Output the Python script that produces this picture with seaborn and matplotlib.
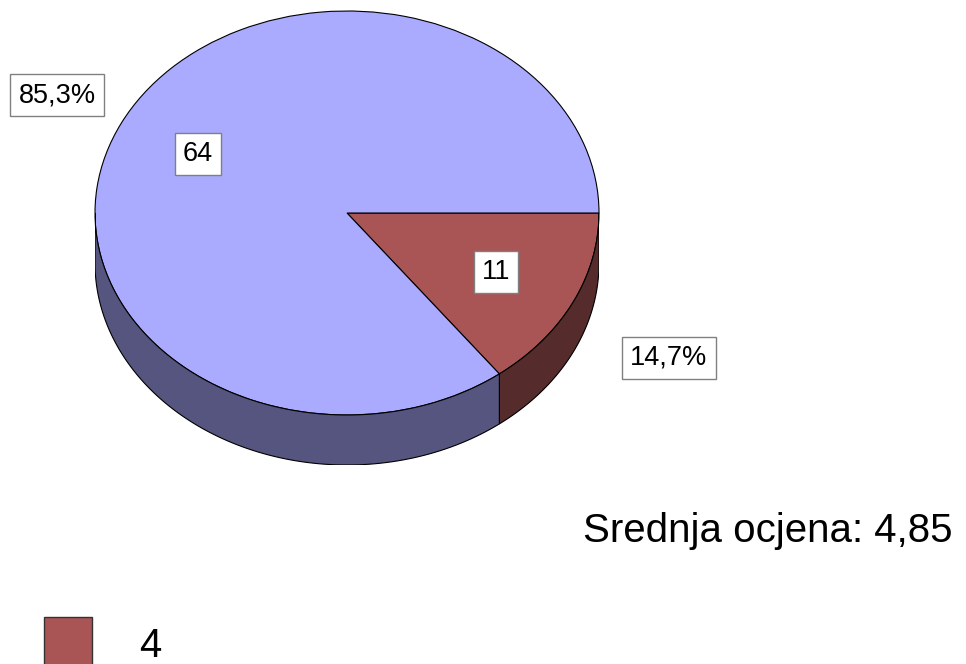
import numpy as np
import matplotlib
matplotlib.use("Agg")
import matplotlib.pyplot as plt
from matplotlib.patches import Polygon, Rectangle
import seaborn as sns

# data
categories = ["4", "5"]
counts = [11, 64]
colors = ["#AA5555", "#AAAAFF"]
side_colors = ["#552B2B", "#55557F"]
pct_labels = ["14,7%", "85,3%"]
mean_text = "Srednja ocjena: 4,85"

sns.set_theme(style="white")
plt.rcParams["font.family"] = ["Liberation Sans", "DejaVu Sans"]
plt.rcParams["text.color"] = "black"

W, H = 966, 664
fig = plt.figure(figsize=(W / 100, H / 100), dpi=100)

# ellipse geometry in pixels
cx, cy, rx, ry, depth = 347, 213, 252, 202, 50
d = depth / ry
ax = fig.add_axes([(cx - rx) / W, (H - (cy + ry + depth)) / H, 2 * rx / W, (2 * ry + depth) / H])

edge = dict(edgecolor="black", linewidth=0.8)
ax.pie(counts, colors=colors, startangle=0, counterclock=False,
       wedgeprops=edge, radius=1, center=(0, 0), frame=False)
ax.set_xlim(-1, 1)
ax.set_ylim(-1 - d, 1)
ax.set_aspect("auto")
ax.axis("off")

# side walls of the slices (front half only)
fracs = np.array(counts) / np.sum(counts)
bounds = -360 * np.concatenate([[0], np.cumsum(fracs)])
for i in range(len(counts)):
    t0, t1 = bounds[i + 1], bounds[i]
    lo, hi = max(t0, -180), min(t1, 0)
    if lo < hi:
        t = np.radians(np.linspace(lo, hi, 100))
        top = np.column_stack([np.cos(t), np.sin(t)])
        bot = np.column_stack([np.cos(t), np.sin(t) - d])[::-1]
        ax.add_patch(Polygon(np.vstack([top, bot]), closed=True,
                             facecolor=side_colors[i], **edge))
    mid = np.radians((t0 + t1) / 2)
    ax.text(0.66 * np.cos(mid), 0.66 * np.sin(mid), str(counts[i]),
            ha="center", va="center", fontsize=19.5, color="black", zorder=5,
            bbox=dict(boxstyle="square,pad=0.3", fc="white", ec="#808080", lw=1))

# overlay in pixel coordinates
ov = fig.add_axes([0, 0, 1, 1])
ov.set_xlim(0, W)
ov.set_ylim(H, 0)
ov.axis("off")
ov.patch.set_alpha(0)

pct_pos = [(669, 358), (57, 95)]
for (px, py), lab in zip(pct_pos, pct_labels):
    ov.text(px, py, lab, ha="center", va="center", fontsize=19.5, color="black",
            bbox=dict(boxstyle="square,pad=0.3", fc="white", ec="#808080", lw=1))

ov.text(583, 542, mean_text, ha="left", va="baseline", fontsize=29, color="black")

# legend
for i, cat in enumerate(categories):
    y0 = 617 + i * 80
    ov.add_patch(Rectangle((44, y0), 48, 48, facecolor=colors[i], edgecolor="#333333", lw=1))
    ov.text(139, 657, cat, ha="left", va="baseline", fontsize=29, color="black") if i == 0 else \
        ov.text(139, y0 + 40, cat, ha="left", va="baseline", fontsize=29, color="black")

fig.savefig("out.png", dpi=100)
